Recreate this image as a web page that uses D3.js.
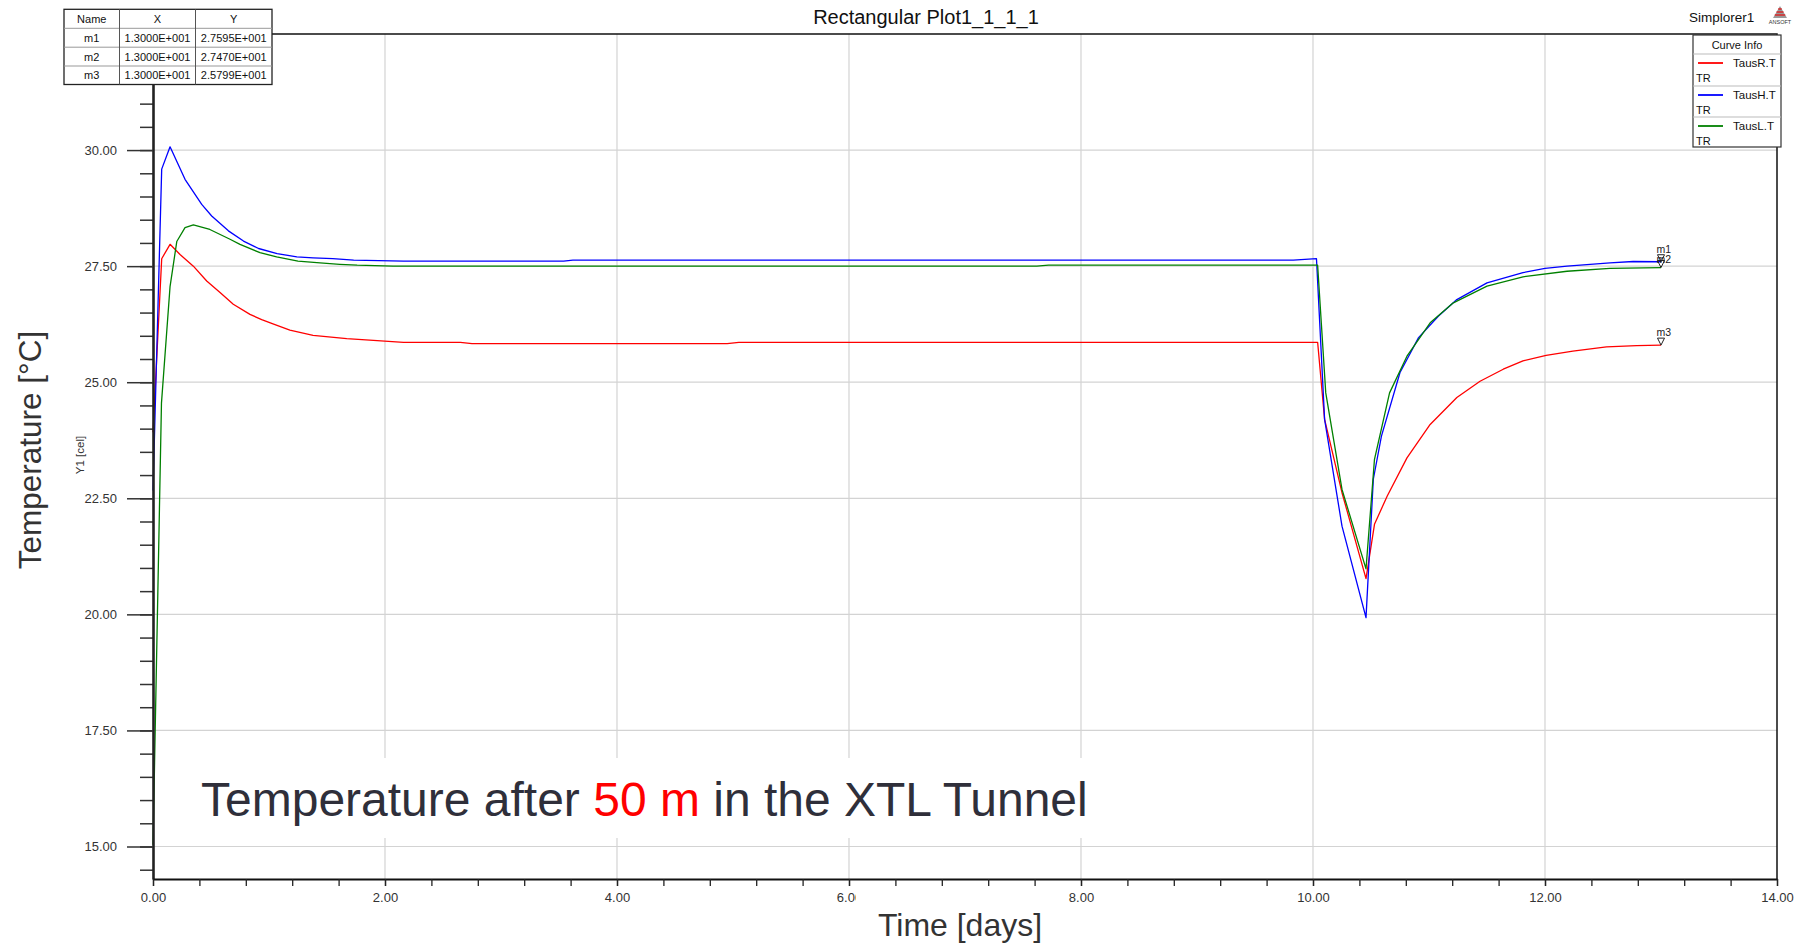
<!DOCTYPE html>
<html>
<head>
<meta charset="utf-8">
<script src="https://cdn.jsdelivr.net/npm/d3@7"></script>
<style>
  html, body { margin: 0; padding: 0; background: #fff; }
  svg { display: block; font-family: "Liberation Sans", Arial, sans-serif; }
</style>
</head>
<body>
<svg id="chart" width="1802" height="944"></svg>
<script>
// ---- data: simulated tunnel air temperatures (°C) over time (days) ----
const seriesNames = ["TausR.T", "TausH.T", "TausL.T"];
const seriesColors = ["#ff0000", "#0000ff", "#008000"];

const timeR = [0, 0.075, 0.147, 0.233, 0.348, 0.463, 0.578, 0.692, 0.836, 0.937, 1.04, 1.18, 1.38, 1.67, 1.9, 2.16, 2.65, 2.75, 4.95, 5.05, 10.04, 10.10, 10.25, 10.457, 10.53, 10.64, 10.81, 11.01, 11.24, 11.44, 11.64, 11.81, 12.01, 12.24, 12.53, 12.79, 13.0];
const tempR = [23.92, 27.66, 27.97, 27.75, 27.5, 27.18, 26.93, 26.68, 26.46, 26.35, 26.25, 26.12, 26.01, 25.94, 25.9, 25.86, 25.86, 25.83, 25.83, 25.86, 25.86, 24.2, 22.62, 20.77, 21.94, 22.55, 23.37, 24.09, 24.67, 25.02, 25.28, 25.46, 25.58, 25.67, 25.76, 25.79, 25.799];

const timeH = [0, 0.075, 0.147, 0.276, 0.42, 0.506, 0.65, 0.78, 0.91, 1.07, 1.24, 1.38, 1.55, 1.73, 2.16, 3.54, 3.62, 9.83, 10.03, 10.10, 10.25, 10.457, 10.52, 10.59, 10.75, 10.91, 11.08, 11.24, 11.5, 11.81, 12.0, 12.19, 12.56, 12.76, 13.0];
const tempH = [22.67, 29.59, 30.07, 29.37, 28.83, 28.58, 28.26, 28.04, 27.88, 27.77, 27.7, 27.68, 27.66, 27.63, 27.61, 27.61, 27.63, 27.63, 27.66, 24.2, 21.9, 19.93, 22.91, 23.84, 25.21, 25.96, 26.42, 26.78, 27.14, 27.36, 27.45, 27.5, 27.57, 27.6, 27.595];

const timeL = [0, 0.073, 0.147, 0.205, 0.276, 0.348, 0.49, 0.664, 0.75, 0.922, 1.066, 1.25, 1.44, 1.61, 1.76, 2.07, 7.62, 7.72, 10.04, 10.11, 10.25, 10.457, 10.53, 10.66, 10.81, 11.01, 11.21, 11.5, 11.81, 12.19, 12.56, 13.0];
const tempL = [15.04, 24.55, 27.06, 28.03, 28.33, 28.39, 28.29, 28.08, 27.97, 27.79, 27.7, 27.61, 27.57, 27.54, 27.52, 27.5, 27.5, 27.52, 27.52, 24.77, 22.69, 20.98, 23.34, 24.77, 25.56, 26.28, 26.71, 27.07, 27.27, 27.39, 27.45, 27.47];

// markers placed at the end of the run
const markerNames = ["m1", "m2", "m3"];
const markerX = [13, 13, 13];
const markerY = [27.595, 27.470, 25.799];

// axis ticks
const xMajorTicks = [0, 2, 4, 6, 8, 10, 12, 14];
const yMajorTicks = [15, 17.5, 20, 22.5, 25, 27.5, 30];

// ---- layout ----
const svg = d3.select("#chart");
const plot = { left: 153, right: 1777, top: 34, bottom: 879 };

const x = d3.scaleLinear().domain([0, 14]).range([plot.left, plot.right]);
const y = d3.scaleLinear().domain([14.3, 32.5]).range([plot.bottom, plot.top]);

const xMinorTicks = d3.range(0, 14.0001, 0.4).map(v => +v.toFixed(2));
const yMinorTicks = d3.range(14.5, 32.5001, 0.5).map(v => +v.toFixed(2));

// gridlines
const grid = svg.append("g").attr("stroke", "#d3d3d3").attr("stroke-width", 1.2);
grid.selectAll("line.gx").data(xMajorTicks.filter(d => d > 0 && d < 14)).join("line")
  .attr("x1", d => x(d)).attr("x2", d => x(d))
  .attr("y1", plot.top).attr("y2", plot.bottom);
grid.selectAll("line.gy").data(yMajorTicks).join("line")
  .attr("x1", plot.left).attr("x2", plot.right)
  .attr("y1", d => y(d)).attr("y2", d => y(d));

// frame: top and right edges
svg.append("path")
  .attr("d", `M${plot.left},${plot.top}H${plot.right}V${plot.bottom}`)
  .attr("fill", "none").attr("stroke", "#111").attr("stroke-width", 1.5);

// annotation box inside the plot
svg.append("rect").attr("x", 195).attr("y", 758).attr("width", 905).attr("height", 80).attr("fill", "#fff");
const note = svg.append("text").attr("x", 201).attr("y", 816)
  .attr("font-size", 48).attr("fill", "#2f2f3a");
note.append("tspan").text("Temperature after ");
note.append("tspan").attr("fill", "#ff0000").text("50 m");
note.append("tspan").text(" in the XTL Tunnel");

// curves
const seriesTimes = [timeR, timeH, timeL];
const seriesTemps = [tempR, tempH, tempL];
const line = d3.line().x(d => x(d[0])).y(d => y(d[1]));
const curves = svg.append("g").attr("fill", "none").attr("stroke-width", 1.3).attr("stroke-linejoin", "round");
seriesNames.forEach((name, i) => {
  const pts = seriesTimes[i].map((t, j) => [t, seriesTemps[i][j]]);
  curves.append("path").datum(pts).attr("d", line).attr("stroke", seriesColors[i]);
});

// markers
const mk = svg.append("g");
markerNames.forEach((m, i) => {
  const px = x(markerX[i]), py = y(markerY[i]);
  mk.append("path")
    .attr("d", `M${px - 3.5},${py - 7}L${px + 3.5},${py - 7}L${px},${py}Z`)
    .attr("fill", "none").attr("stroke", "#222").attr("stroke-width", 1);
  mk.append("text").attr("x", px - 4.5).attr("y", py - 9 - (i === 1 ? -4 : 0))
    .attr("font-size", 10.5).attr("fill", "#222").text(m);
});

// y axis: minor then major ticks
const yMinor = d3.axisLeft(y).tickValues(yMinorTicks).tickSize(13).tickSizeOuter(0).tickFormat("");
svg.append("g").attr("transform", `translate(${plot.left},0)`).call(yMinor)
  .call(g => g.select(".domain").remove())
  .call(g => g.selectAll(".tick line").attr("stroke", "#333").attr("stroke-width", 1.5));
const yMajor = d3.axisLeft(y).tickValues(yMajorTicks).tickSize(26).tickSizeOuter(0)
  .tickPadding(10).tickFormat(d3.format(".2f"));
svg.append("g").attr("transform", `translate(${plot.left},0)`).call(yMajor)
  .call(g => g.select(".domain").attr("stroke", "#222").attr("stroke-width", 2.6))
  .call(g => g.selectAll(".tick line").attr("stroke", "#333").attr("stroke-width", 1.5))
  .call(g => g.selectAll(".tick text").attr("font-size", 13).attr("fill", "#333")
    .attr("font-family", "'Liberation Sans', Arial, sans-serif"));

// x axis
const xMinor = d3.axisBottom(x).tickValues(xMinorTicks).tickSize(7).tickSizeOuter(0).tickFormat("");
svg.append("g").attr("transform", `translate(0,${plot.bottom})`).call(xMinor)
  .call(g => g.select(".domain").attr("stroke", "#111").attr("stroke-width", 2))
  .call(g => g.selectAll(".tick line").attr("stroke", "#222").attr("stroke-width", 1.3));
const xMajor = d3.axisBottom(x).tickValues(xMajorTicks).tickSize(7).tickSizeOuter(0)
  .tickPadding(7).tickFormat(d3.format(".2f"));
svg.append("g").attr("transform", `translate(0,${plot.bottom})`).call(xMajor)
  .call(g => g.select(".domain").remove())
  .call(g => g.selectAll(".tick line").attr("stroke", "#222").attr("stroke-width", 1.3))
  .call(g => g.selectAll(".tick text").attr("font-size", 13).attr("fill", "#333")
    .attr("font-family", "'Liberation Sans', Arial, sans-serif"));

// x-axis caption (on its own white box)
svg.append("rect").attr("x", 856).attr("y", 888).attr("width", 208).attr("height", 56).attr("fill", "#fff");
svg.append("text").attr("x", 960).attr("y", 936).attr("text-anchor", "middle")
  .attr("font-size", 32).attr("fill", "#333").text("Time [days]");

// y-axis captions
svg.append("text").attr("transform", "translate(41,450) rotate(-90)").attr("text-anchor", "middle")
  .attr("font-size", 31.5).attr("fill", "#333").text("Temperature [°C]");
svg.append("text").attr("transform", "translate(84,455) rotate(-90)").attr("text-anchor", "middle")
  .attr("font-size", 11.5).attr("fill", "#333").text("Y1 [cel]");

// title and header
svg.append("text").attr("x", 926).attr("y", 24).attr("text-anchor", "middle")
  .attr("font-size", 20).attr("fill", "#111").text("Rectangular Plot1_1_1_1");
svg.append("text").attr("x", 1689).attr("y", 22).attr("font-size", 13.5).attr("fill", "#111").text("Simplorer1");

// small logo
const logo = svg.append("g").attr("transform", "translate(1780,6)");
logo.append("path").attr("d", "M0,0L7,12L-7,12Z").attr("fill", "#9a9a9a");
[3, 6, 9].forEach(v => logo.append("line")
  .attr("x1", -v * 0.58).attr("x2", v * 0.58).attr("y1", v).attr("y2", v)
  .attr("stroke", "#d22").attr("stroke-width", 1.4));
logo.append("text").attr("x", 0).attr("y", 18).attr("text-anchor", "middle")
  .attr("font-size", 5.5).attr("fill", "#333").text("ANSOFT");

// marker table
const fmtSci = v => {
  const [m, e] = d3.format(".4e")(v).split("e");
  const n = Math.abs(+e);
  return `${m}E${+e < 0 ? "-" : "+"}${String(n).padStart(3, "0")}`;
};
const colX = [64, 119.5, 195.5, 272];
const rowY = [9.3, 28.3, 47.2, 66, 84.5];
const table = svg.append("g");
table.append("rect").attr("x", colX[0]).attr("y", rowY[0])
  .attr("width", colX[3] - colX[0]).attr("height", rowY[4] - rowY[0])
  .attr("fill", "#fff").attr("stroke", "#222").attr("stroke-width", 1.3);
rowY.slice(1, 4).forEach(r => table.append("line").attr("x1", colX[0]).attr("x2", colX[3])
  .attr("y1", r).attr("y2", r).attr("stroke", "#999").attr("stroke-width", 1));
colX.slice(1, 3).forEach(c => table.append("line").attr("x1", c).attr("x2", c)
  .attr("y1", rowY[0]).attr("y2", rowY[4]).attr("stroke", "#555").attr("stroke-width", 1));
const tableRows = [["Name", "X", "Y"]].concat(markerNames.map((m, i) => [m, fmtSci(markerX[i]), fmtSci(markerY[i])]));
tableRows.forEach((row, ri) => row.forEach((cell, ci) => {
  table.append("text").attr("x", (colX[ci] + colX[ci + 1]) / 2).attr("y", (rowY[ri] + rowY[ri + 1]) / 2 + 4)
    .attr("text-anchor", "middle").attr("font-size", 11).attr("fill", "#111").text(cell);
}));

// legend
const lg = svg.append("g");
lg.append("rect").attr("x", 1693).attr("y", 35).attr("width", 88).attr("height", 112)
  .attr("fill", "#fff").attr("stroke", "#333").attr("stroke-width", 1.2);
lg.append("text").attr("x", 1737).attr("y", 49).attr("text-anchor", "middle")
  .attr("font-size", 11).attr("fill", "#111").text("Curve Info");
const rowTops = [54, 86, 117];
rowTops.forEach((top, i) => {
  lg.append("line").attr("x1", 1693).attr("x2", 1781).attr("y1", top).attr("y2", top)
    .attr("stroke", "#bbb").attr("stroke-width", 1);
  lg.append("line").attr("x1", 1698).attr("x2", 1723).attr("y1", top + 9).attr("y2", top + 9)
    .attr("stroke", seriesColors[i]).attr("stroke-width", 1.8);
  lg.append("text").attr("x", 1733).attr("y", top + 13).attr("font-size", 11.5).attr("fill", "#111").text(seriesNames[i]);
  lg.append("text").attr("x", 1696).attr("y", top + 28).attr("font-size", 11).attr("fill", "#111").text("TR");
});
</script>
</body>
</html>
